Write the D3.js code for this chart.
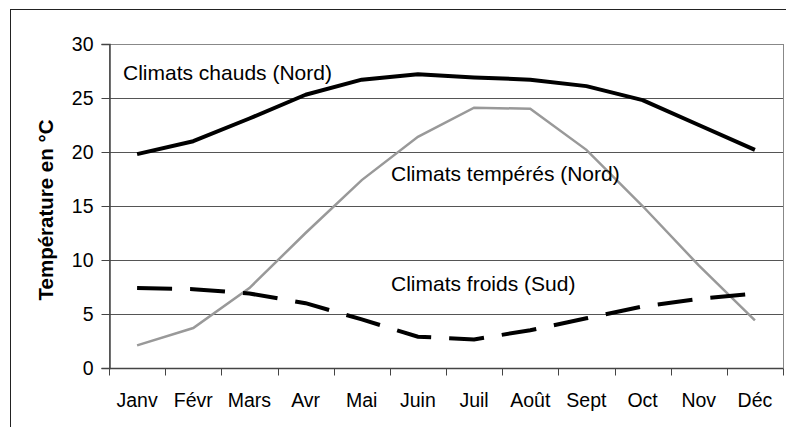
<!DOCTYPE html>
<html>
<head>
<meta charset="utf-8">
<script src="https://cdn.jsdelivr.net/npm/d3@7"></script>
<style>
  body { margin: 0; background: #fff; }
  text { font-family: "Liberation Sans", Arial, sans-serif; fill: #000; }
</style>
</head>
<body>
<div id="chart"></div>
<script>
// data
const months = ["Janv", "Févr", "Mars", "Avr", "Mai", "Juin", "Juil", "Août", "Sept", "Oct", "Nov", "Déc"];
const chauds = [19.8, 21.0, 23.1, 25.3, 26.7, 27.2, 26.9, 26.7, 26.1, 24.8, 22.5, 20.2];
const temperes = [2.1, 3.7, 7.4, 12.5, 17.4, 21.4, 24.1, 24.0, 20.2, 15.0, 9.5, 4.4];
const froids = [7.4, 7.3, 6.9, 6.0, 4.5, 2.9, 2.65, 3.5, 4.6, 5.7, 6.4, 6.9];
const yTicks = [0, 5, 10, 15, 20, 25, 30];

const width = 786;
const height = 427;

const LEFT = 109, RIGHT = 783, TOP = 44, BOTTOM = 368;
const AXIS_COLOR = "#444";
const GRID_COLOR = "#555";
const TICK_FONT = "19.5px";
const LABEL_FONT = "21px";

const svg = d3.select("#chart")
  .append("svg")
  .attr("width", width)
  .attr("height", height);

// outer frame (clipped at right and bottom like the picture)
svg.append("rect")
  .attr("x", 10.5).attr("y", 9.5)
  .attr("width", 790).attr("height", 430)
  .attr("fill", "none")
  .attr("stroke", "#222")
  .attr("stroke-width", 1);

const x = d3.scaleBand().domain(months).range([LEFT, RIGHT]);
const y = d3.scaleLinear().domain([0, 30]).range([BOTTOM, TOP]);

// plot border (top + right, gray)
svg.append("rect")
  .attr("x", LEFT + 0.5).attr("y", TOP + 0.5)
  .attr("width", RIGHT - LEFT).attr("height", BOTTOM - TOP)
  .attr("fill", "none")
  .attr("stroke", "#888");

// gridlines
svg.append("g")
  .selectAll("line")
  .data(yTicks.filter(d => d > 0 && d < 30))
  .enter()
  .append("line")
  .attr("x1", LEFT).attr("x2", RIGHT)
  .attr("y1", d => Math.round(y(d)) + 0.5)
  .attr("y2", d => Math.round(y(d)) + 0.5)
  .attr("stroke", GRID_COLOR)
  .attr("stroke-width", 1);

// y axis
const yAxis = svg.append("g")
  .attr("transform", `translate(${LEFT + 0.5},0)`)
  .call(d3.axisLeft(y).tickValues(yTicks).tickSize(8).tickPadding(8));
yAxis.select(".domain").attr("stroke", AXIS_COLOR).attr("stroke-width", 1.5);
yAxis.selectAll(".tick line").attr("stroke", AXIS_COLOR);
yAxis.selectAll(".tick text")
  .style("font-family", "Liberation Sans, Arial, sans-serif")
  .style("font-size", TICK_FONT)
  .attr("fill", "#000");

// x axis, ticks between categories
const xAxisG = svg.append("g")
  .attr("transform", `translate(0,${BOTTOM + 0.5})`);
xAxisG.append("line")
  .attr("x1", LEFT).attr("x2", RIGHT)
  .attr("stroke", AXIS_COLOR).attr("stroke-width", 1.5);
xAxisG.selectAll("line.tick")
  .data(months.concat(["end"]))
  .enter()
  .append("line")
  .attr("class", "tick")
  .attr("x1", (d, i) => Math.round(LEFT + i * x.bandwidth()) + 0.5)
  .attr("x2", (d, i) => Math.round(LEFT + i * x.bandwidth()) + 0.5)
  .attr("y1", 0).attr("y2", 7)
  .attr("stroke", AXIS_COLOR);
xAxisG.selectAll("text")
  .data(months)
  .enter()
  .append("text")
  .attr("x", d => x(d) + x.bandwidth() / 2)
  .attr("y", 38)
  .attr("text-anchor", "middle")
  .style("font-size", TICK_FONT)
  .text(d => d);

// y title
svg.append("text")
  .attr("transform", `translate(53,210) rotate(-90)`)
  .attr("text-anchor", "middle")
  .style("font-size", "20.5px")
  .style("font-weight", "bold")
  .text("Température en °C");

const line = d3.line()
  .x((d, i) => x(months[i]) + x.bandwidth() / 2)
  .y(d => y(d));

svg.append("path")
  .attr("d", line(temperes))
  .attr("fill", "none")
  .attr("stroke", "#999")
  .attr("stroke-width", 2.5);

svg.append("path")
  .attr("d", line(froids))
  .attr("fill", "none")
  .attr("stroke", "#000")
  .attr("stroke-width", 4)
  .attr("stroke-dasharray", "35,18");

svg.append("path")
  .attr("d", line(chauds))
  .attr("fill", "none")
  .attr("stroke", "#000")
  .attr("stroke-width", 4)
  .attr("stroke-linejoin", "round");

// series labels
svg.append("text").attr("x", 123).attr("y", 80).style("font-size", LABEL_FONT).text("Climats chauds (Nord)");
svg.append("text").attr("x", 391).attr("y", 181).style("font-size", LABEL_FONT).text("Climats tempérés (Nord)");
svg.append("text").attr("x", 391).attr("y", 291).style("font-size", LABEL_FONT).text("Climats froids (Sud)");
</script>
</body>
</html>
